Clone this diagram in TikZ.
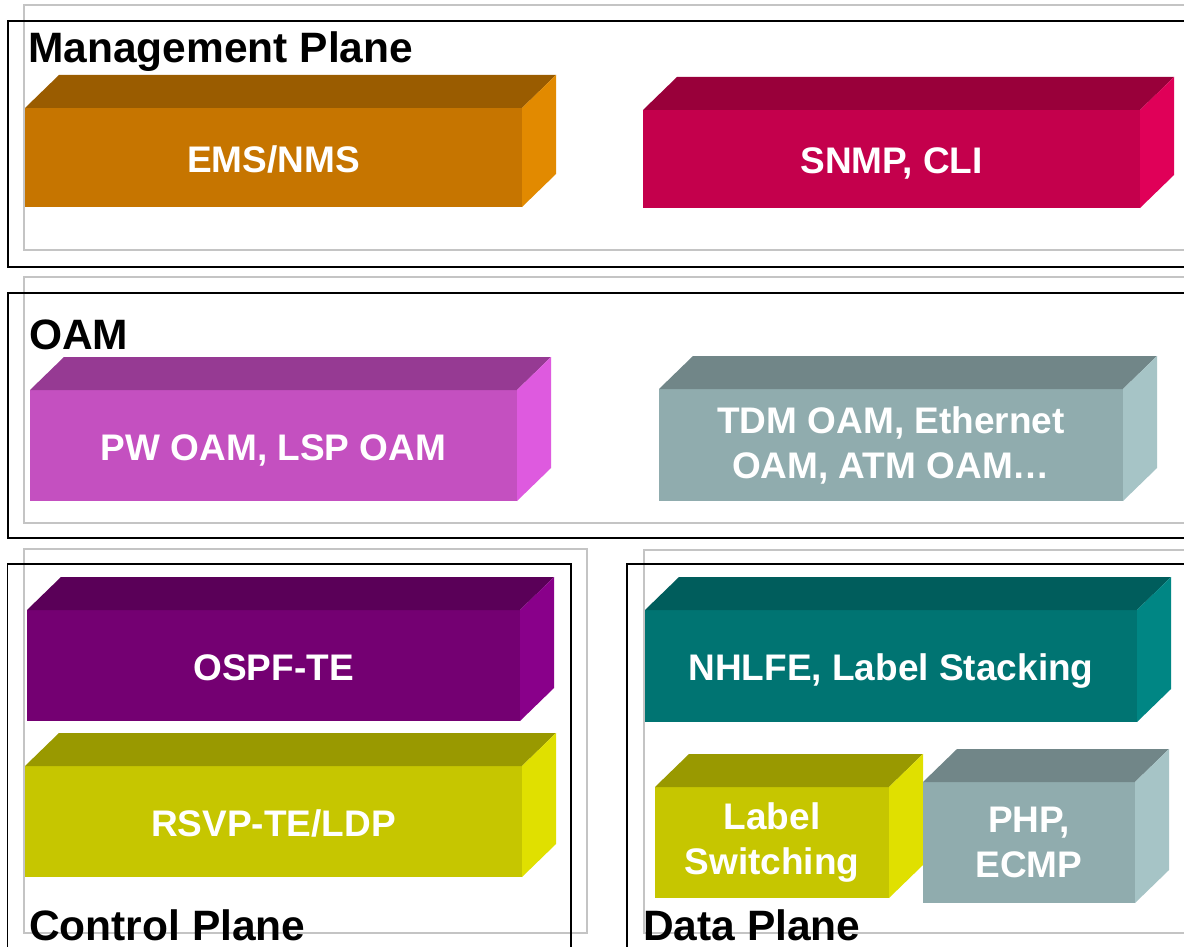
\documentclass[tikz,border=0pt]{standalone}
\usepackage{fontspec}
\setmainfont{Liberation Sans}
\definecolor{emsF}{HTML}{C67500}
\definecolor{emsT}{HTML}{9A5C00}
\definecolor{emsS}{HTML}{E28A00}
\definecolor{snmpF}{HTML}{C4004C}
\definecolor{snmpT}{HTML}{99003A}
\definecolor{snmpS}{HTML}{E00058}
\definecolor{pwF}{HTML}{C450C0}
\definecolor{pwT}{HTML}{963A93}
\definecolor{pwS}{HTML}{DE5ADF}
\definecolor{tdmF}{HTML}{90ACAE}
\definecolor{tdmT}{HTML}{718688}
\definecolor{tdmS}{HTML}{A6C4C6}
\definecolor{ospfF}{HTML}{740072}
\definecolor{ospfT}{HTML}{5A0058}
\definecolor{ospfS}{HTML}{89008A}
\definecolor{rsvpF}{HTML}{C6C600}
\definecolor{rsvpT}{HTML}{999900}
\definecolor{rsvpS}{HTML}{E0E000}
\definecolor{nhF}{HTML}{007472}
\definecolor{nhT}{HTML}{005D5C}
\definecolor{nhS}{HTML}{008684}
\definecolor{frameGray}{HTML}{C4C4C4}
\newcommand{\mplsbox}[8][]{%
  \node[boxfront, fill=#7F, minimum width={(#5-#3)*1pt}, minimum height={(#6-#4)*1pt}, #1]
    (#2) at ({(#3+#5)/2},{(#4+#6)/2}) {#8};
  \fill[#7T] (#2.north west) -- ++(34pt,33pt) -- ([shift={(34pt,33pt)}]#2.north east) -- (#2.north east) -- cycle;
  \fill[#7S] (#2.north east) -- ++(34pt,33pt) -- ([shift={(34pt,33pt)}]#2.south east) -- (#2.south east) -- cycle;
}
\begin{document}
\begin{tikzpicture}[x=1pt,y=-1pt,
  grayframe/.style={draw=frameGray, line width=1.6pt},
  blackframe/.style={draw=black, line width=2pt},
  thinblack/.style={draw=black, line width=1.6pt},
  boxfront/.style={inner sep=0pt, outer sep=0pt, draw=none, text=white, align=center,
    font=\fontsize{37}{45}\selectfont\bfseries},
  oneline/.style={text height=29.5pt, text depth=0pt},
  planetitle/.style={anchor=base west, inner sep=0pt, text=black,
    font=\fontsize{42.5}{48}\selectfont\bfseries}]
\clip (0,0) rectangle (1184,947);
\fill[white] (0,0) rectangle (1184,947);
% frames
\draw[grayframe] (24,5) rectangle (1210,250);
\draw[blackframe] (7.5,21) rectangle (1210,267);
\draw[grayframe] (24,277) rectangle (1210,523);
\draw[blackframe] (7.5,293) rectangle (1210,538);
\draw[grayframe] (24,549) rectangle (587,933);
\draw[thinblack] (7.5,564) rectangle (571,970);
\draw[grayframe] (644,550) rectangle (1210,933);
\draw[thinblack] (627,564) rectangle (1210,970);
% blocks
\mplsbox[oneline]{ems}{25}{108}{522}{207}{ems}{EMS/NMS}
\mplsbox[oneline]{snmp}{643}{110}{1140}{208}{snmp}{SNMP, CLI}
\mplsbox[oneline]{pw}{30}{390}{517}{501}{pw}{PW OAM, LSP OAM}
\mplsbox{tdm}{659}{389}{1123}{501}{tdm}{TDM OAM, Ethernet\\OAM, ATM OAM…}
\mplsbox[oneline]{ospf}{27}{610}{520}{721}{ospf}{OSPF-TE}
\mplsbox[oneline]{rsvp}{25}{766}{522}{877}{rsvp}{RSVP-TE/LDP}
\mplsbox[oneline]{nhlfe}{645}{610}{1137}{722}{nh}{NHLFE, Label Stacking}
\mplsbox{lsw}{655}{787}{889}{898}{rsvp}{Label\\Switching}
\mplsbox{php}{923}{782}{1135}{903}{tdm}{PHP,\\ECMP}
% titles
\node[planetitle] (mgmt) at (28,63) {Management Plane};
\node[planetitle] (oam) at (29,349) {OAM};
\node[planetitle] (ctrl) at (29,940) {Control Plane};
\node[planetitle] (data) at (643,940) {Data Plane};
\end{tikzpicture}
\end{document}
